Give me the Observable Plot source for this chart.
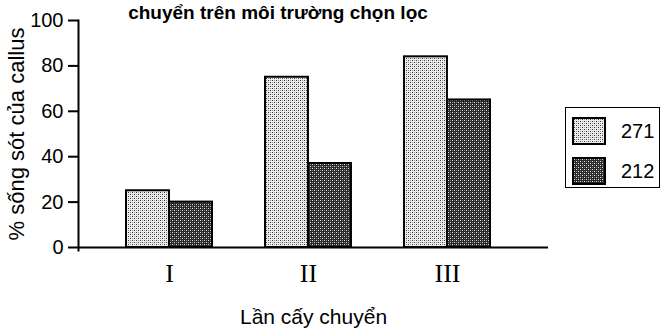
<!DOCTYPE html>
<html><head><meta charset="utf-8">
<script src="https://cdn.jsdelivr.net/npm/d3@7"></script>
<script src="https://cdn.jsdelivr.net/npm/@observablehq/plot@0.6"></script>
<style>
body{margin:0;background:#fff;}
#wrap{position:relative;width:665px;height:330px;overflow:hidden;font-family:"Liberation Sans",Arial,sans-serif;}
#title{position:absolute;left:0;top:3px;width:556px;text-align:center;font-weight:bold;font-size:19px;line-height:19px;z-index:2;}
#chart{position:absolute;left:0;top:0;}
#legend{position:absolute;left:565px;top:107px;width:93px;height:79px;border:1.5px solid #000;background:#fff;}
.row{position:absolute;left:6px;display:flex;align-items:center;height:28px;}
.row span{margin-left:15px;font-size:20px;}
</style></head><body>
<div id="wrap"><div id="title"></div><div id="chart"></div><div id="legend"></div></div>
<script>
const groups = ["I", "II", "III"];
const series = ["271", "212"];
const values271 = [25, 75, 84];
const values212 = [20, 37, 65];
const yTicks = [0, 20, 40, 60, 80, 100];
const titleText = "chuyển trên môi trường chọn lọc";
const yLabel = "% sống sót của callus";
const xLabel = "Lần cấy chuyển";

const data = groups.flatMap((g, i) => [
  {group: g, series: series[0], value: values271[i]},
  {group: g, series: series[1], value: values212[i]}
]);
const fills = ["url(#p271)", "url(#p212)"];

const W = 665, H = 330, mL = 78, mR = 117, mT = 20, mB = 83;
const pad = 0.381;
const step = (W - mL - mR) / (groups.length + pad);
const half = step * (1 - pad) / 2;

const chart = Plot.plot({
  width: W, height: H,
  marginTop: mT, marginBottom: mB, marginLeft: mL, marginRight: mR,
  style: {fontFamily: "Liberation Sans, Arial, sans-serif", background: "transparent", color: "#000"},
  x: {domain: groups, paddingInner: pad, paddingOuter: pad, align: 0.45},
  y: {domain: [0, 100]},
  color: {domain: series, range: fills},
  marks: [
    Plot.barY(data.filter(d => d.series === series[0]), {x: "group", y: "value", fill: "series", stroke: "#000", strokeWidth: 2, insetRight: half}),
    Plot.barY(data.filter(d => d.series === series[1]), {x: "group", y: "value", fill: "series", stroke: "#000", strokeWidth: 2, insetLeft: half}),
    Plot.ruleY([0], {stroke: "#000", strokeWidth: 2}),
    Plot.frame({anchor: "left", stroke: "#000", strokeWidth: 2, insetBottom: -3}),
    Plot.axisY({ticks: yTicks, tickSize: 10, tickPadding: 5, strokeWidth: 2, fontSize: 20,
      label: yLabel, labelAnchor: "center", labelArrow: false, labelOffset: 70}),
    Plot.axisX({anchor: "bottom", tickSize: 0, tickPadding: 16, fontSize: 26,
      fontFamily: "Liberation Serif, Times New Roman, serif", label: null}),
    Plot.axisX({anchor: "bottom", tickSize: 0, tickFormat: () => "", fontSize: 21,
      label: xLabel, labelAnchor: "center", labelArrow: false, labelOffset: 76})
  ]
});

// the y axis label is a little larger than the tick labels
d3.select(chart).selectAll("text").filter(function() { return this.textContent === yLabel; })
  .style("font-size", "22px");

// stipple patterns
const defs = d3.select(chart).insert("defs", ":first-child");
function pattern(id, bg, dots) {
  const p = defs.append("pattern").attr("id", id).attr("patternUnits", "userSpaceOnUse")
    .attr("width", 4).attr("height", 4);
  p.append("rect").attr("width", 4).attr("height", 4).attr("fill", bg);
  dots.forEach(([x, y, c]) => p.append("rect").attr("x", x).attr("y", y).attr("width", 1).attr("height", 1).attr("fill", c));
}
pattern("p271", "#ececec", [[0, 0, "#3a3a3a"], [2, 2, "#3a3a3a"], [2, 0, "#9a9a9a"], [0, 2, "#9a9a9a"]]);
pattern("p212", "#2a2a2a", [[0, 0, "#e0e0e0"], [2, 2, "#e0e0e0"], [2, 0, "#808080"], [0, 2, "#808080"]]);

document.getElementById("chart").appendChild(chart);
document.getElementById("title").textContent = titleText;

const legend = d3.select("#legend");
series.forEach((s, i) => {
  const row = legend.append("div").attr("class", "row").style("top", (9 + i * 40) + "px");
  const sw = row.append("svg").attr("width", 34).attr("height", 28);
  sw.append("rect").attr("x", 1).attr("y", 1).attr("width", 32).attr("height", 26)
    .attr("fill", fills[i]).attr("stroke", "#000").attr("stroke-width", 2);
  row.append("span").text(s);
});
</script>
</body></html>
